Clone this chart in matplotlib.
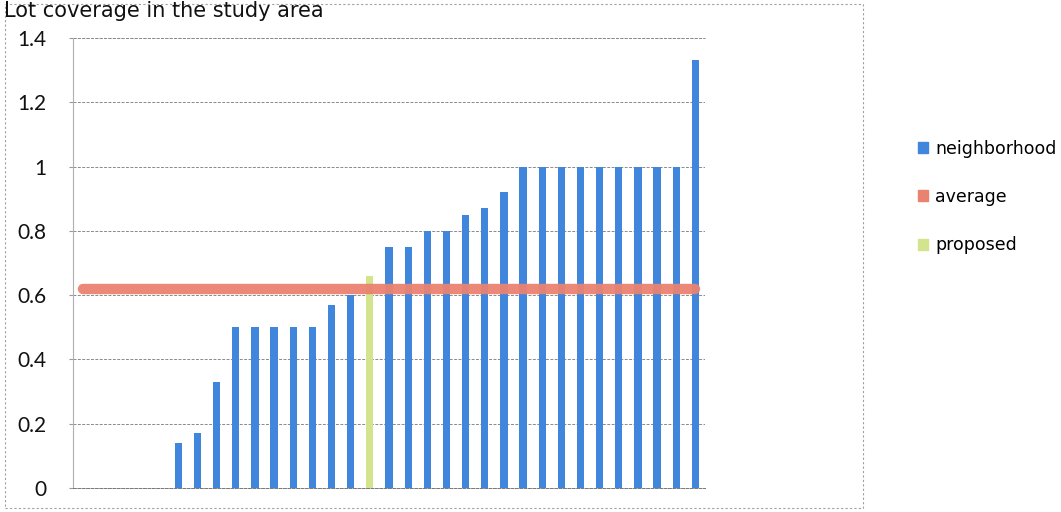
import numpy as np
import matplotlib
matplotlib.use("Agg")
import matplotlib.pyplot as plt
from matplotlib.patches import Patch, Rectangle

# neighborhood values, sorted; empty slots are 0, slot 15 holds the proposed site
neighborhood = [0, 0, 0, 0, 0, 0.14, 0.17, 0.33, 0.5, 0.5, 0.5, 0.5, 0.5, 0.57, 0.6,
                0, 0.75, 0.75, 0.8, 0.8, 0.85, 0.87, 0.92,
                1.0, 1.0, 1.0, 1.0, 1.0, 1.0, 1.0, 1.0, 1.0, 1.33]
proposed = [0] * 15 + [0.66] + [0] * 17
average = [0.62] * 33
yticks = [0, 0.2, 0.4, 0.6, 0.8, 1, 1.2, 1.4]
ytick_labels = ["0", "0.2", "0.4", "0.6", "0.8", "1", "1.2", "1.4"]
title = "Lot coverage in the study area"

blue = "#3f86dc"
red = "#ea8270"
green = "#d3e48e"

W, H = 1061, 512
fig = plt.figure(figsize=(W / 100, H / 100), dpi=100)
ax = fig.add_axes([73 / W, 1 - 488 / H, 632 / W, 450 / H])

x = np.arange(len(neighborhood))
ax.bar(x, neighborhood, width=0.38, color=blue, zorder=2)
ax.bar(x, proposed, width=0.38, color=green, zorder=2)
ax.plot(x, average, color=red, lw=7.5, solid_capstyle="round", alpha=0.95, zorder=3)

ax.set_xlim(-0.5, len(neighborhood) - 0.5)
ax.set_ylim(0, 1.4)
ax.set_yticks(yticks)
ax.set_yticklabels(ytick_labels, fontfamily="Lato", fontsize=15, color="#111111")
ax.tick_params(axis="y", length=3, color="#999999", pad=16)
ax.set_xticks([])
ax.grid(axis="y", color="#8a8a8a", lw=0.7, ls=(0, (3, 1.5)), zorder=0)
for s in ["top", "right"]:
    ax.spines[s].set_visible(False)
ax.spines["left"].set_color("#b0b0b0")
ax.spines["left"].set_linewidth(0.8)
ax.spines["bottom"].set_color("#777777")
ax.spines["bottom"].set_linestyle((0, (3, 1.5)))
ax.spines["bottom"].set_linewidth(0.7)

# top gridline (1.4) as drawn in the reference
ax.axhline(1.4, color="#8a8a8a", lw=0.7, ls=(0, (3, 1.5)), zorder=0, clip_on=False)

handles = [Patch(color=blue, label="neighborhood"),
           Patch(color=red, label="average"),
           Patch(color=green, label="proposed")]
fig.legend(handles=handles, loc="upper left", bbox_to_anchor=(902 / W, 1 - 124 / H),
           frameon=False, handlelength=0.6, handleheight=0.6,
           handletextpad=0.4, labelspacing=1.75, prop={"family": "DejaVu Sans", "size": 12.5})

# outer chart border
fig.patches.append(Rectangle((5 / W, 4 / H), 858 / W, 504 / H, transform=fig.transFigure,
                             fill=False, ec="#a0a0a0", lw=0.8, ls=(0, (2, 2))))

# title, at the very top of the scan
fig.text(4 / W, 1 - 1 / H, title, fontsize=15, va="top", ha="left", color="#111111")

fig.savefig("out.png", dpi=100)
